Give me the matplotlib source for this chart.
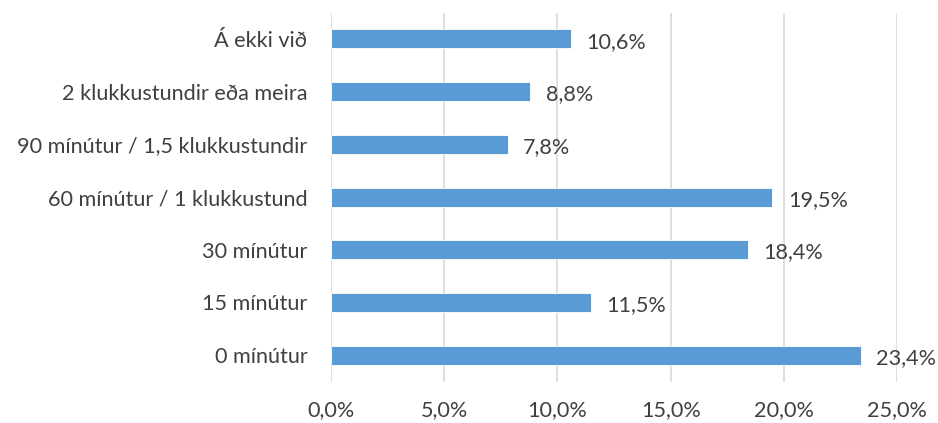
import matplotlib.pyplot as plt
import numpy as np

# Flokkar og gildi (frá neðst til efst)
flokkar = ["0 mínútur", "15 mínútur", "30 mínútur", "60 mínútur / 1 klukkustund",
           "90 mínútur / 1,5 klukkustundir", "2 klukkustundir eða meira", "Á ekki við"]
gildi = [23.4, 11.5, 18.4, 19.5, 7.8, 8.8, 10.6]
xticks = [0, 5, 10, 15, 20, 25]

plt.rcParams['font.family'] = ['Lato', 'DejaVu Sans']
textalitur = "#404040"
fs = 15.6

fig = plt.figure(figsize=(9.38, 4.23), dpi=100)
ax = fig.add_axes([0.3529, 0.098, 0.6034, 0.8724])

y = np.arange(len(flokkar))
ax.barh(y, gildi, height=0.36, color="#5B9BD5", edgecolor="white", linewidth=0.6, zorder=2)

for yi, v in zip(y, gildi):
    ax.annotate(("%.1f%%" % v).replace(".", ","), (v, yi), xytext=(11, -2),
                textcoords="offset points", va="center", ha="left",
                fontsize=fs, color=textalitur)

ax.set_xlim(0, 25)
ax.set_ylim(-0.5, len(flokkar) - 0.5)
ax.set_xticks(xticks)
ax.set_xticklabels([("%.1f%%" % t).replace(".", ",") for t in xticks])
ax.set_yticks(y)
ax.set_yticklabels(flokkar)

ax.grid(axis="x", color="#D9D9D9", linewidth=1.2, zorder=0)
for s in ax.spines.values():
    s.set_visible(False)
ax.tick_params(axis="both", length=0, labelsize=fs, colors=textalitur)
ax.tick_params(axis="y", pad=17)
ax.tick_params(axis="x", pad=13)

fig.savefig("out.png", dpi=100)
